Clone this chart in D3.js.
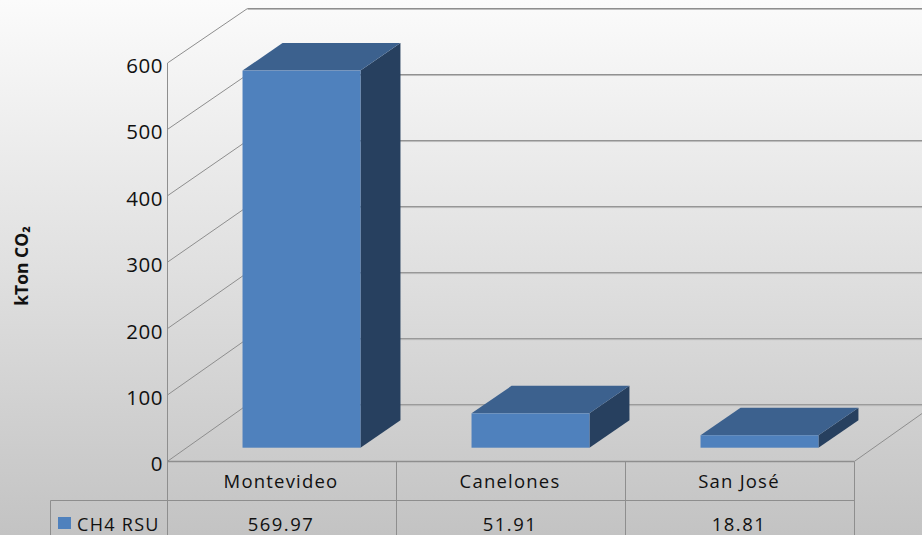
<!DOCTYPE html>
<html><head><meta charset="utf-8">
<script src="https://cdn.jsdelivr.net/npm/d3@7"></script>
<style>html,body{margin:0;padding:0;overflow:hidden}svg{display:block}text{font-family:"Open Sans",sans-serif;fill:#111}</style>
</head><body><svg id="c" width="922" height="535"></svg>
<script>
const categories=["Montevideo","Canelones","San José"];
const values=[569.97,51.91,18.81];
const valueLabels=["569.97","51.91","18.81"];
const yTicks=[0,100,200,300,400,500,600];
const seriesName="CH4 RSU";
const axisTitle="kTon CO₂";

const svg=d3.select("#c");
const defs=svg.append("defs");
const g=defs.append("linearGradient").attr("id","bg").attr("x1",0).attr("y1",0).attr("x2",0).attr("y2",1);
[[0,"#fbfbfb"],[.5,"#e0e0e0"],[1,"#c3c3c3"]].forEach(s=>g.append("stop").attr("offset",s[0]).attr("stop-color",s[1]));
svg.append("rect").attr("width",922).attr("height",535).attr("fill","url(#bg)");

const x=d3.scaleBand().domain(categories).range([167.5,854.5]).paddingInner(.485).paddingOuter(.2425);
const step=x.step();
const yF=d3.scaleLinear().domain([0,600]).range([461.3,63]);
const yB=d3.scaleLinear().domain([0,600]).range([404.7,8.5]);
const yBar=d3.scaleLinear().domain([0,600]).range([447.7,50.7]);
const dx=80, bdx=40, bdy=27.5, bx=19.5;
const grid="#8e8e8e";

yTicks.forEach(t=>{
  svg.append("line").attr("x1",167.5).attr("y1",yF(t)).attr("x2",247.5).attr("y2",yB(t)).attr("stroke",grid).attr("stroke-width",1);
  svg.append("line").attr("x1",247.5).attr("y1",yB(t)+1).attr("x2",922).attr("y2",yB(t)+1).attr("stroke","#bdbdbd").attr("stroke-width",1);
  svg.append("line").attr("x1",247.5).attr("y1",yB(t)).attr("x2",922).attr("y2",yB(t)).attr("stroke",grid).attr("stroke-width",1);
  svg.append("text").attr("x",163).attr("y",yF(t)+10).attr("text-anchor","end").attr("font-size",20.5).attr("letter-spacing",.5).text(t);
});
svg.append("line").attr("x1",167.5).attr("y1",63).attr("x2",167.5).attr("y2",535).attr("stroke",grid);
svg.append("line").attr("x1",854.5).attr("y1",461.3).attr("x2",854.5+dx).attr("y2",404.7).attr("stroke",grid);

categories.forEach((c,i)=>{
  const x0=x(c)+bx, w=x.bandwidth(), yb=yBar(0), yt=yBar(values[i]);
  const poly=(pts,f)=>svg.append("polygon").attr("points",pts.map(p=>p.join(",")).join(" ")).attr("fill",f);
  poly([[x0+w,yt],[x0+w+bdx,yt-bdy],[x0+w+bdx,yb-bdy],[x0+w,yb]],"#27405f");
  poly([[x0,yt],[x0+bdx,yt-bdy],[x0+w+bdx,yt-bdy],[x0+w,yt]],"#3c618e");
  svg.append("rect").attr("x",x0).attr("y",yt).attr("width",w).attr("height",yb-yt).attr("fill","#4f81bd");
});

// data table
const tc="#8e8e8e";
svg.append("line").attr("x1",167.5).attr("y1",461.5).attr("x2",854.5).attr("y2",461.5).attr("stroke",tc).attr("stroke-width",1.6);
svg.append("line").attr("x1",50.5).attr("y1",500.5).attr("x2",854.5).attr("y2",500.5).attr("stroke",tc);
svg.append("line").attr("x1",50.5).attr("y1",500.5).attr("x2",50.5).attr("y2",535).attr("stroke",tc);
categories.forEach((c,i)=>{
  const xr=167.5+step*(i+1);
  svg.append("line").attr("x1",xr).attr("y1",461.5).attr("x2",xr).attr("y2",535).attr("stroke",tc);
  const cx=167.5+step*(i+.5)-1;
  svg.append("text").attr("x",cx).attr("y",488).attr("text-anchor","middle").attr("font-size",18.5).attr("letter-spacing",1.2).text(c);
  svg.append("text").attr("x",cx).attr("y",530.5).attr("text-anchor","middle").attr("font-size",18.5).attr("letter-spacing",1.5).text(valueLabels[i]);
});
svg.append("rect").attr("x",58).attr("y",517).attr("width",13).attr("height",12).attr("fill","#4f81bd");
svg.append("text").attr("x",77).attr("y",530.5).attr("font-size",18).attr("letter-spacing",1.3).text(seriesName);
svg.append("text").attr("transform","translate(28,266) rotate(-90)").attr("text-anchor","middle").attr("font-size",17.5).attr("font-weight",700).text(axisTitle);
</script></body></html>
